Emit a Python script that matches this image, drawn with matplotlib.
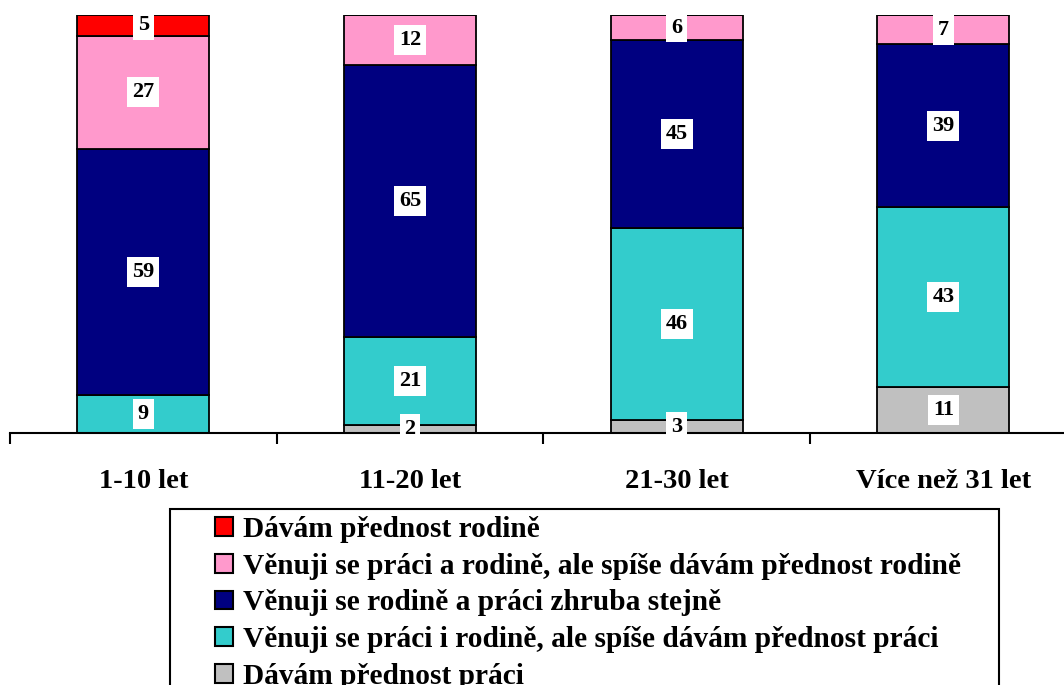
import matplotlib

matplotlib.use("Agg")
import matplotlib.pyplot as plt
from matplotlib.patches import Rectangle
import numpy as np

# data (percent of respondents)
categories = ["1-10 let", "11-20 let", "21-30 let", "Více než 31 let"]
prace = [0, 2, 3, 11]
spise_prace = [9, 21, 46, 43]
stejne = [59, 65, 45, 39]
spise_rodine = [27, 12, 6, 7]
rodine = [5, 0, 0, 0]

series = [
    ("Dávám přednost práci", prace, "#C0C0C0"),
    ("Věnuji se práci i rodině, ale spíše dávám přednost práci", spise_prace, "#33CCCC"),
    ("Věnuji se rodině a práci zhruba stejně", stejne, "#000080"),
    ("Věnuji se práci a rodině, ale spíše dávám přednost rodině", spise_rodine, "#FF99CC"),
    ("Dávám přednost rodině", rodine, "#FF0000"),
]

plt.rcParams["font.family"] = ["Liberation Serif", "DejaVu Serif"]
plt.rcParams["font.weight"] = "bold"

W, H = 1064, 685
fig = plt.figure(figsize=(W / 100, H / 100), dpi=100)
# axes: x from px 10 to ~1077 (4 categories), y from px 15 (100%) to 433 (0%)
ax = fig.add_axes([10 / W, 1 - 433 / H, 1066.7 / W, 418 / H])

x = np.arange(len(categories))
bottom = np.zeros(len(categories))
handles = []
for label, vals, color in series:
    vals = np.array(vals, dtype=float)
    bars = ax.bar(x, vals, 0.495, bottom=bottom, color=color,
                  edgecolor="black", linewidth=1.3, label=label)
    handles.append(bars)
    for i, v in enumerate(vals):
        if v > 0:
            ax.text(x[i], bottom[i] + v / 2, f"{int(v)}", ha="center", va="center",
                    fontsize=16, fontweight="bold", color="black",
                    bbox=dict(facecolor="white", edgecolor="none", pad=3.5))
    bottom += vals

ax.set_xlim(-0.5, 3.5)
ax.set_ylim(0, 100)
for s in ("left", "top", "right"):
    ax.spines[s].set_visible(False)
ax.spines["bottom"].set_linewidth(1.5)
ax.set_yticks([])
ax.set_xticks(x)
ax.set_xticklabels(categories, fontsize=20.5, fontweight="bold")
ax.tick_params(axis="x", which="major", length=0, pad=26)
ax.set_xticks(np.arange(-0.5, 4.0, 1.0), minor=True)
ax.tick_params(axis="x", which="minor", length=8, width=1.5, direction="out")

# legend frame drawn separately (runs off the bottom edge, like the reference)
fig.patches.append(Rectangle((170 / W, -0.05), (999 - 170) / W, 0.05 + 1 - 509 / H,
                             transform=fig.transFigure, facecolor="white",
                             edgecolor="black", linewidth=1.5, zorder=0))

leg = fig.legend(handles[::-1], [s[0] for s in series][::-1],
                 loc="upper left", bbox_to_anchor=(215 / W, 1 - 516 / H),
                 prop={"weight": "bold", "size": 21.2},
                 frameon=False, borderaxespad=0, borderpad=0,
                 handlelength=0.6, handleheight=0.6, handletextpad=0.35,
                 labelspacing=0.33)
for p in leg.get_patches():
    p.set_linewidth(1.5)

fig.savefig("out.png", dpi=100)
